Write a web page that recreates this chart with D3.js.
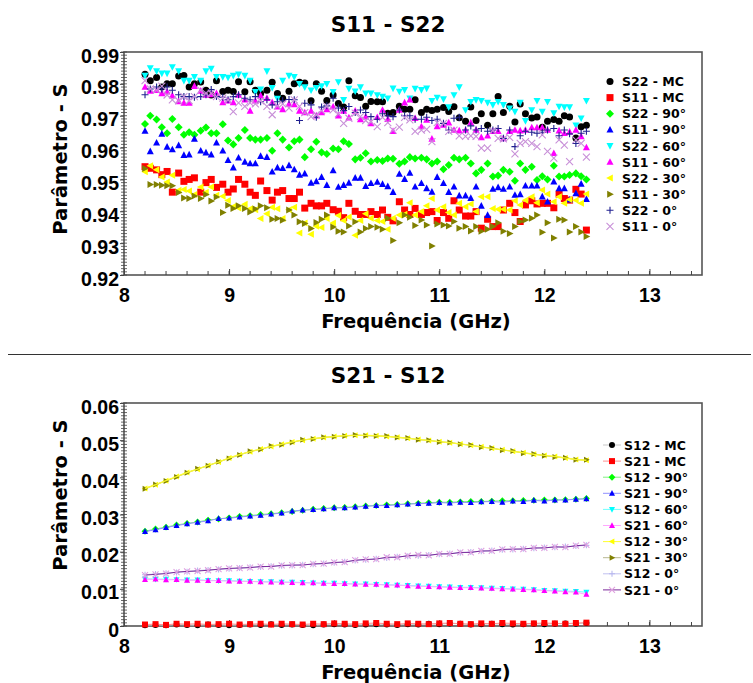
<!DOCTYPE html>
<html lang="en">
<head>
<meta charset="UTF-8">
<title>S11 - S22 / S21 - S12</title>
<style>
  body { margin: 0; background: #fff; }
  svg { display: block; font-family: "DejaVu Sans", Verdana, sans-serif; font-weight: bold; }
</style>
</head>
<body>
<svg width="753" height="683"></svg>
<script src="https://d3js.org/d3.v7.min.js"></script>
<script>
// ---------- top panel: reflection, 81 sweep points (GHz) ----------
const freqRefl = [
  8.20, 8.25, 8.31, 8.36, 8.41, 8.46, 8.52, 8.57, 8.62, 8.67,
  8.73, 8.78, 8.83, 8.88, 8.94, 8.99, 9.04, 9.09, 9.15, 9.20,
  9.25, 9.30, 9.36, 9.41, 9.46, 9.51, 9.57, 9.62, 9.67, 9.72,
  9.78, 9.83, 9.88, 9.93, 9.99, 10.04, 10.09, 10.14, 10.20, 10.25,
  10.30, 10.35, 10.41, 10.46, 10.51, 10.56, 10.62, 10.67, 10.72, 10.77,
  10.83, 10.88, 10.93, 10.98, 11.04, 11.09, 11.14, 11.19, 11.25, 11.30,
  11.35, 11.40, 11.46, 11.51, 11.56, 11.61, 11.67, 11.72, 11.77, 11.82,
  11.88, 11.93, 11.98, 12.03, 12.09, 12.14, 12.19, 12.24, 12.30, 12.35,
  12.40];

const s22MC = [
  0.983, 0.981, 0.982, 0.979, 0.980, 0.980, 0.9825, 0.9826, 0.979, 0.980,
  0.9806, 0.978, 0.9765, 0.981, 0.9776, 0.978, 0.9776, 0.9807, 0.9775, 0.9807,
  0.978, 0.977, 0.978, 0.9805, 0.977, 0.9755, 0.9777, 0.980, 0.9805, 0.9803,
  0.9747, 0.980, 0.9777, 0.9748, 0.9765, 0.9738, 0.9727, 0.981, 0.9763, 0.9757,
  0.973, 0.9745, 0.9744, 0.9744, 0.9708, 0.971, 0.973, 0.972, 0.972, 0.975,
  0.971, 0.972, 0.9716, 0.972, 0.9726, 0.9713, 0.9728, 0.9694, 0.9683, 0.9727,
  0.9685, 0.9706, 0.967, 0.9706, 0.976, 0.971, 0.973, 0.968, 0.9737, 0.9706,
  0.9693, 0.9696, 0.9664, 0.9683, 0.9688, 0.9683, 0.970, 0.9696, 0.963, 0.9665,
  0.967];
const s11MC = [
  0.954, 0.9535, 0.953, 0.9515, 0.9525, 0.946, 0.952, 0.9494, 0.950, 0.9505,
  0.946, 0.949, 0.950, 0.9475, 0.9485, 0.946, 0.947, 0.950, 0.9485, 0.946,
  0.945, 0.9495, 0.9465, 0.9435, 0.946, 0.9465, 0.944, 0.944, 0.946, 0.941,
  0.9425, 0.9417, 0.9417, 0.9425, 0.9405, 0.940, 0.938, 0.9425, 0.940, 0.939,
  0.939, 0.9399, 0.939, 0.9404, 0.9381, 0.937, 0.943, 0.9404, 0.939, 0.9409,
  0.939, 0.9396, 0.9399, 0.9371, 0.9396, 0.9378, 0.9433, 0.9404, 0.9385, 0.9385,
  0.9399, 0.9347, 0.9375, 0.9352, 0.9352, 0.9404, 0.9425, 0.9396, 0.9368, 0.942,
  0.9433, 0.9423, 0.9425, 0.9425, 0.9411, 0.9454, 0.944, 0.9435, 0.9469, 0.9454,
  0.9341];
const s22_90 = [
  0.9674, 0.970, 0.9688, 0.9664, 0.9645, 0.969, 0.9664, 0.964, 0.9648, 0.964,
  0.9653, 0.9663, 0.9645, 0.9645, 0.9673, 0.9622, 0.961, 0.963, 0.9655, 0.963,
  0.9625, 0.9625, 0.963, 0.959, 0.9645, 0.9625, 0.960, 0.962, 0.9625, 0.957,
  0.9595, 0.9618, 0.9585, 0.958, 0.9597, 0.9595, 0.962, 0.9611, 0.9563, 0.9568,
  0.9582, 0.9556, 0.9561, 0.9558, 0.9566, 0.9565, 0.9549, 0.9556, 0.957, 0.9566,
  0.9568, 0.9563, 0.955, 0.9556, 0.9532, 0.9545, 0.9568, 0.9563, 0.9568, 0.955,
  0.9519, 0.953, 0.955, 0.9509, 0.9512, 0.953, 0.9524, 0.9496, 0.955, 0.953,
  0.954, 0.9498, 0.951, 0.950, 0.9543, 0.9509, 0.9509, 0.9514, 0.9519, 0.951,
  0.950];
const s11_90 = [
  0.9652, 0.9588, 0.9615, 0.9643, 0.9602, 0.9594, 0.9607, 0.9576, 0.9578, 0.9627,
  0.959, 0.9584, 0.9578, 0.9615, 0.959, 0.956, 0.9537, 0.9568, 0.9555, 0.955,
  0.955, 0.9573, 0.957, 0.9524, 0.9537, 0.9535, 0.9544, 0.9531, 0.9514, 0.9518,
  0.9489, 0.9494, 0.9507, 0.9482, 0.9528, 0.9476, 0.9482, 0.9489, 0.9505, 0.9505,
  0.9479, 0.9488, 0.9492, 0.9485, 0.9478, 0.946, 0.9517, 0.9501, 0.952, 0.9477,
  0.9488, 0.9472, 0.9461, 0.9507, 0.9488, 0.946, 0.9477, 0.9449, 0.9449, 0.9441,
  0.9477, 0.9417, 0.9388, 0.947, 0.9475, 0.947, 0.9477, 0.9451, 0.9453, 0.948,
  0.948, 0.948, 0.9446, 0.943, 0.9493, 0.9472, 0.9472, 0.9436, 0.9456, 0.9486,
  0.9438];
const s22_60 = [
  0.9826, 0.985, 0.984, 0.9833, 0.9833, 0.9853, 0.984, 0.981, 0.981, 0.9822,
  0.981, 0.984, 0.9848, 0.9822, 0.9822, 0.982, 0.9826, 0.983, 0.9826, 0.981,
  0.9775, 0.9783, 0.984, 0.9788, 0.9754, 0.981, 0.9826, 0.9822, 0.980, 0.979,
  0.978, 0.9788, 0.9793, 0.980, 0.9775, 0.9806, 0.975, 0.9785, 0.9777, 0.979,
  0.977, 0.977, 0.9765, 0.976, 0.9755, 0.9786, 0.9776, 0.9781, 0.9755, 0.9785,
  0.9781, 0.9786, 0.9747, 0.9757, 0.9752, 0.9727, 0.9765, 0.979, 0.9718, 0.9744,
  0.975, 0.9747, 0.9741, 0.9734, 0.9744, 0.9734, 0.9723, 0.9713, 0.9741, 0.9684,
  0.9718, 0.9747, 0.9713, 0.9744, 0.9708, 0.9729, 0.9727, 0.9727, 0.967, 0.9692,
  0.9747];
const s11_60 = [
  0.979, 0.9778, 0.978, 0.977, 0.9775, 0.9763, 0.9745, 0.974, 0.974, 0.9793,
  0.9778, 0.9765, 0.9767, 0.977, 0.9742, 0.9747, 0.9742, 0.9765, 0.975, 0.9715,
  0.9747, 0.9763, 0.9755, 0.9742, 0.9728, 0.972, 0.9737, 0.9735, 0.9715, 0.971,
  0.9715, 0.970, 0.971, 0.972, 0.9728, 0.970, 0.9715, 0.9694, 0.9715, 0.9688,
  0.9697, 0.9676, 0.9695, 0.9718, 0.9689, 0.9651, 0.9718, 0.9741, 0.975, 0.9692,
  0.9666, 0.9687, 0.9627, 0.9666, 0.9671, 0.9678, 0.9655, 0.9653, 0.9655, 0.9678,
  0.9655, 0.9632, 0.9637, 0.9651, 0.9651, 0.9629, 0.9651, 0.9655, 0.9653, 0.9655,
  0.9663, 0.9663, 0.9663, 0.9655, 0.9582, 0.9653, 0.9645, 0.9649, 0.9655, 0.9635,
  0.960];
const s22_30 = [
  0.9524, 0.9543, 0.953, 0.9508, 0.9492, 0.9513, 0.9466, 0.9468, 0.9464, 0.9453,
  0.9476, 0.946, 0.9476, 0.945, 0.9447, 0.9434, 0.9415, 0.941, 0.9422, 0.9408,
  0.9405, 0.9377, 0.9392, 0.9413, 0.9408, 0.9377, 0.9405, 0.9413, 0.9332, 0.9363,
  0.9328, 0.9353, 0.9349, 0.9377, 0.9363, 0.9387, 0.9371, 0.9382, 0.9325, 0.9371,
  0.9392, 0.9378, 0.9371, 0.9368, 0.9344, 0.9378, 0.9388, 0.9391, 0.9427, 0.9388,
  0.9399, 0.9417, 0.944, 0.9404, 0.9414, 0.9396, 0.9388, 0.9425, 0.9414, 0.9423,
  0.9399, 0.9446, 0.9446, 0.9409, 0.9406, 0.9406, 0.9404, 0.9433, 0.942, 0.9435,
  0.9446, 0.9427, 0.9467, 0.9454, 0.943, 0.9446, 0.9425, 0.9437, 0.9435, 0.9425,
  0.9454];
const s11_30 = [
  0.9534, 0.9484, 0.9484, 0.9482, 0.948, 0.948, 0.9459, 0.9442, 0.944, 0.9448,
  0.944, 0.9453, 0.9432, 0.9445, 0.9396, 0.9419, 0.9409, 0.9417, 0.9409, 0.9398,
  0.9407, 0.9417, 0.9411, 0.9375, 0.9377, 0.9372, 0.9404, 0.9388, 0.9367, 0.9362,
  0.9346, 0.9365, 0.9375, 0.9388, 0.9351, 0.9337, 0.9335, 0.9354, 0.9367, 0.9335,
  0.9346, 0.9352, 0.935, 0.9344, 0.9378, 0.9308, 0.9364, 0.9388, 0.9381, 0.9355,
  0.9373, 0.9357, 0.9291, 0.936, 0.9357, 0.9354, 0.9368, 0.9347, 0.9352, 0.9338,
  0.9352, 0.9337, 0.9344, 0.9352, 0.9364, 0.9337, 0.933, 0.9352, 0.9368, 0.9373,
  0.9378, 0.9388, 0.9334, 0.9364, 0.9316, 0.9375, 0.9373, 0.9335, 0.9352, 0.9335,
  0.9321];
const s22_0 = [
  0.9766, 0.9784, 0.979, 0.9784, 0.979, 0.978, 0.9766, 0.976, 0.976, 0.9758,
  0.976, 0.9766, 0.9782, 0.976, 0.9758, 0.975, 0.976, 0.9766, 0.9755, 0.975,
  0.976, 0.9744, 0.975, 0.9734, 0.9744, 0.9747, 0.9751, 0.975, 0.9685, 0.9739,
  0.9734, 0.9695, 0.9727, 0.9731, 0.9755, 0.9724, 0.9716, 0.9729, 0.971, 0.9718,
  0.971, 0.9697, 0.9689, 0.9706, 0.970, 0.9697, 0.9718, 0.970, 0.970, 0.9689,
  0.9689, 0.9695, 0.9685, 0.9689, 0.9676, 0.9655, 0.9692, 0.9695, 0.9655, 0.9668,
  0.9655, 0.966, 0.9651, 0.9655, 0.966, 0.9629, 0.9655, 0.9603, 0.9637, 0.9651,
  0.9648, 0.9645, 0.9648, 0.9655, 0.966, 0.9637, 0.9655, 0.9643, 0.9613, 0.9645,
  0.9651];
const s11_0 = [
  0.981, 0.9784, 0.978, 0.9793, 0.9765, 0.975, 0.9747, 0.976, 0.9747, 0.976,
  0.978, 0.977, 0.977, 0.976, 0.9755, 0.975, 0.9713, 0.974, 0.9729, 0.974,
  0.9737, 0.9747, 0.9729, 0.9703, 0.9731, 0.9737, 0.9724, 0.975, 0.9729, 0.971,
  0.9697, 0.9703, 0.9716, 0.9729, 0.9718, 0.9706, 0.9676, 0.9692, 0.9708, 0.9697,
  0.9685, 0.9681, 0.9666, 0.9695, 0.9678, 0.9655, 0.9664, 0.9695, 0.9687, 0.9651,
  0.9655, 0.9657, 0.9619, 0.9678, 0.9676, 0.9651, 0.9655, 0.9637, 0.9635, 0.9637,
  0.9635, 0.9598, 0.9598, 0.9653, 0.9629, 0.9627, 0.9632, 0.958, 0.9613, 0.9619,
  0.9613, 0.9603, 0.964, 0.9588, 0.9567, 0.9624, 0.9608, 0.9556, 0.9624, 0.9613,
  0.957];

// ---------- bottom panel: transmission, 43 points ----------
const freqTrans = [
  8.2, 8.3, 8.4, 8.5, 8.6, 8.7, 8.8, 8.9, 9.0, 9.1,
  9.2, 9.3, 9.4, 9.5, 9.6, 9.7, 9.8, 9.9, 10.0, 10.1,
  10.2, 10.3, 10.4, 10.5, 10.6, 10.7, 10.8, 10.9, 11.0, 11.1,
  11.2, 11.3, 11.4, 11.5, 11.6, 11.7, 11.8, 11.9, 12.0, 12.1,
  12.2, 12.3, 12.4];

const s12MC = [
  0.0002, 0.0003, 0.0002, 0.0004, 0.0003, 0.0002, 0.0004, 0.0003, 0.0002, 0.0003,
  0.0004, 0.0003, 0.0005, 0.0003, 0.0004, 0.0003, 0.0002, 0.0004, 0.0005, 0.0004,
  0.0003, 0.0004, 0.0005, 0.0004, 0.0003, 0.0005, 0.0004, 0.0006, 0.0005, 0.0007,
  0.0006, 0.0004, 0.0005, 0.0006, 0.0005, 0.0004, 0.0005, 0.0006, 0.0005, 0.0006,
  0.0007, 0.0006, 0.0008];
const s21MC = [
  0.0004, 0.0005, 0.0003, 0.0006, 0.0005, 0.0006, 0.0004, 0.0005, 0.0006, 0.0004,
  0.0005, 0.0006, 0.0004, 0.0006, 0.0005, 0.0004, 0.0006, 0.0005, 0.0007, 0.0006,
  0.0005, 0.0007, 0.0008, 0.0006, 0.0005, 0.0007, 0.0006, 0.0005, 0.0007, 0.0008,
  0.0006, 0.0005, 0.0007, 0.0006, 0.0008, 0.0007, 0.0006, 0.0007, 0.0008, 0.0007,
  0.0006, 0.0008, 0.0009];
const s12_90 = [
  0.0255, 0.0261, 0.0266, 0.0272, 0.0276, 0.0280, 0.0285, 0.0288, 0.0291, 0.0295,
  0.0297, 0.0300, 0.0302, 0.0305, 0.0308, 0.0311, 0.0314, 0.0316, 0.0318, 0.0319,
  0.0321, 0.0323, 0.0324, 0.0326, 0.0327, 0.0329, 0.0330, 0.0332, 0.0333, 0.0333,
  0.0334, 0.0335, 0.0335, 0.0336, 0.0337, 0.0337, 0.0338, 0.0338, 0.0339, 0.0339,
  0.0340, 0.0341, 0.0343];
const s21_90 = [
  0.0254, 0.0259, 0.0265, 0.0270, 0.0275, 0.0279, 0.0283, 0.0289, 0.0290, 0.0293,
  0.0296, 0.0298, 0.0301, 0.0304, 0.0309, 0.0312, 0.0313, 0.0315, 0.0318, 0.0318,
  0.0320, 0.0322, 0.0324, 0.0324, 0.0326, 0.0328, 0.0329, 0.0330, 0.0332, 0.0331,
  0.0333, 0.0332, 0.0334, 0.0335, 0.0333, 0.0336, 0.0335, 0.0338, 0.0336, 0.0339,
  0.0339, 0.0341, 0.0342];
const s12_60 = [
  0.0127, 0.0126, 0.0126, 0.0125, 0.0124, 0.0124, 0.0123, 0.0122, 0.0122, 0.0121,
  0.0120, 0.0119, 0.0119, 0.0118, 0.0118, 0.0117, 0.0116, 0.0115, 0.0115, 0.0114,
  0.0113, 0.0113, 0.0112, 0.0111, 0.0110, 0.0109, 0.0108, 0.0107, 0.0106, 0.0105,
  0.0104, 0.0104, 0.0103, 0.0102, 0.0101, 0.0100, 0.0099, 0.0098, 0.0096, 0.0095,
  0.0094, 0.0093, 0.0091];
const s21_60 = [
  0.0125, 0.0126, 0.0124, 0.0125, 0.0123, 0.0123, 0.0122, 0.0122, 0.0121, 0.0120,
  0.0120, 0.0119, 0.0118, 0.0118, 0.0117, 0.0116, 0.0116, 0.0115, 0.0114, 0.0114,
  0.0113, 0.0112, 0.0112, 0.0110, 0.0110, 0.0108, 0.0107, 0.0106, 0.0105, 0.0104,
  0.0103, 0.0103, 0.0102, 0.0101, 0.0100, 0.0099, 0.0098, 0.0097, 0.0095, 0.0094,
  0.0092, 0.0091, 0.0085];
const s12_30 = [
  0.0370, 0.0380, 0.0391, 0.0402, 0.0413, 0.0422, 0.0432, 0.0441, 0.0452, 0.0461,
  0.0469, 0.0476, 0.0483, 0.0489, 0.0495, 0.0500, 0.0504, 0.0507, 0.0510, 0.0512,
  0.0513, 0.0513, 0.0512, 0.0510, 0.0508, 0.0505, 0.0502, 0.0499, 0.0496, 0.0493,
  0.0490, 0.0486, 0.0482, 0.0478, 0.0474, 0.0470, 0.0466, 0.0462, 0.0459, 0.0456,
  0.0452, 0.0448, 0.0446];
const s21_30 = [
  0.0369, 0.0381, 0.0390, 0.0401, 0.0412, 0.0423, 0.0431, 0.0442, 0.0451, 0.0460,
  0.0470, 0.0475, 0.0484, 0.0488, 0.0494, 0.0501, 0.0503, 0.0508, 0.0509, 0.0511,
  0.0514, 0.0512, 0.0511, 0.0511, 0.0507, 0.0506, 0.0501, 0.0500, 0.0495, 0.0494,
  0.0489, 0.0487, 0.0481, 0.0479, 0.0473, 0.0471, 0.0465, 0.0463, 0.0458, 0.0455,
  0.0453, 0.0447, 0.0447];
const s12_0 = [
  0.0138, 0.0140, 0.0142, 0.0144, 0.0146, 0.0149, 0.0151, 0.0152, 0.0154, 0.0156,
  0.0158, 0.0159, 0.0161, 0.0162, 0.0163, 0.0165, 0.0166, 0.0168, 0.0170, 0.0173,
  0.0176, 0.0178, 0.0181, 0.0183, 0.0186, 0.0188, 0.0189, 0.0191, 0.0193, 0.0195,
  0.0197, 0.0199, 0.0201, 0.0203, 0.0205, 0.0206, 0.0208, 0.0209, 0.0211, 0.0212,
  0.0214, 0.0215, 0.0217];
const s21_0 = [
  0.0137, 0.0139, 0.0141, 0.0145, 0.0147, 0.0148, 0.0150, 0.0153, 0.0155, 0.0156,
  0.0157, 0.0160, 0.0160, 0.0163, 0.0164, 0.0164, 0.0167, 0.0168, 0.0171, 0.0172,
  0.0177, 0.0179, 0.0180, 0.0185, 0.0185, 0.0189, 0.0191, 0.0190, 0.0194, 0.0194,
  0.0198, 0.0198, 0.0202, 0.0202, 0.0206, 0.0207, 0.0207, 0.0210, 0.0210, 0.0213,
  0.0212, 0.0216, 0.0218];

const xTicks = [8, 9, 10, 11, 12, 13];
const yTicksRefl = [0.92, 0.93, 0.94, 0.95, 0.96, 0.97, 0.98, 0.99];
const yTicksTrans = [0, 0.01, 0.02, 0.03, 0.04, 0.05, 0.06];

// series tables (name, values, look)
const reflSeries = [
  { name: "S22 - MC",  values: s22MC,  color: "#000000", shape: "circle" },
  { name: "S11 - MC",  values: s11MC,  color: "#ff0000", shape: "square" },
  { name: "S22 - 90°", values: s22_90, color: "#00ff00", shape: "diamond" },
  { name: "S11 - 90°", values: s11_90, color: "#0000ff", shape: "up" },
  { name: "S22 - 60°", values: s22_60, color: "#00ffff", shape: "down" },
  { name: "S11 - 60°", values: s11_60, color: "#ff00ff", shape: "up" },
  { name: "S22 - 30°", values: s22_30, color: "#ffff00", shape: "left" },
  { name: "S11 - 30°", values: s11_30, color: "#808000", shape: "right" },
  { name: "S22 - 0°",  values: s22_0,  color: "#202090", shape: "plus" },
  { name: "S11 - 0°",  values: s11_0,  color: "#c890d8", shape: "cross" }
];
const transSeries = [
  { name: "S12 - MC",  values: s12MC,  color: "#000000", line: "#c8c8c8", lw: 1, shape: "circle" },
  { name: "S21 - MC",  values: s21MC,  color: "#ff0000", line: "#ff9090", lw: 1, shape: "square" },
  { name: "S12 - 90°", values: s12_90, color: "#00ff00", line: "#80f080", lw: 1, shape: "diamond" },
  { name: "S21 - 90°", values: s21_90, color: "#0000ff", line: "#9090ff", lw: 1, shape: "up" },
  { name: "S12 - 60°", values: s12_60, color: "#00ffff", line: "#70ffff", lw: 1, shape: "down" },
  { name: "S21 - 60°", values: s21_60, color: "#ff00ff", line: "#ffa8ff", lw: 1, shape: "up" },
  { name: "S12 - 30°", values: s12_30, color: "#ffff00", line: "#ffff30", lw: 1, shape: "left" },
  { name: "S21 - 30°", values: s21_30, color: "#808000", line: "#b8b890", lw: 1, shape: "right" },
  { name: "S12 - 0°",  values: s12_0,  color: "#b8b8ee", line: "#c0c0f0", lw: 1, shape: "plus" },
  { name: "S21 - 0°",  values: s21_0,  color: "#e0a0e0", line: "#7a2a9a", lw: 1, shape: "cross" }
];

const svg = d3.select("svg");
svg.append("rect").attr("width", 753).attr("height", 683).attr("fill", "#fff");

function markerPath(shape, r) {
  switch (shape) {
    case "circle":  return d3.symbol(d3.symbolCircle, Math.PI * r * r)();
    case "square":  return `M${-r},${-r}h${2 * r}v${2 * r}h${-2 * r}Z`;
    case "diamond": return `M0,${-r * 1.15}L${r * 1.15},0L0,${r * 1.15}L${-r * 1.15},0Z`;
    case "up":      return `M0,${-r * 1.1}L${r},${r * 0.8}L${-r},${r * 0.8}Z`;
    case "down":    return `M0,${r * 1.1}L${r},${-r * 0.8}L${-r},${-r * 0.8}Z`;
    case "left":    return `M${-r * 1.1},0L${r * 0.8},${-r}L${r * 0.8},${r}Z`;
    case "right":   return `M${r * 1.1},0L${-r * 0.8},${-r}L${-r * 0.8},${r}Z`;
    case "plus":    return `M${-r},0H${r}M0,${-r}V${r}`;
    case "cross":   return `M${-r},${-r}L${r},${r}M${-r},${r}L${r},${-r}`;
  }
}
const stroked = s => s === "plus" || s === "cross";

function drawMarker(sel, s, r) {
  sel.attr("d", markerPath(s.shape, r))
    .attr("fill", stroked(s.shape) ? "none" : s.color)
    .attr("stroke", stroked(s.shape) ? s.color : "none")
    .attr("stroke-width", 1.1);
}

function panel(opt) {
  const x = d3.scaleLinear().domain([8, 13.5]).range([124, 702]);
  const y = d3.scaleLinear().domain(opt.yDomain).range([opt.bottom, opt.top]);
  const g = svg.append("g");

  // title
  g.append("text").attr("x", 388).attr("y", opt.titleY)
    .attr("text-anchor", "middle").style("font-size", "21.5px").text(opt.title);

  // frame
  g.append("rect").attr("x", 124).attr("y", opt.top)
    .attr("width", 702 - 124).attr("height", opt.bottom - opt.top)
    .attr("fill", "none").attr("stroke", "#555").attr("stroke-width", 1.6);

  // minor ticks
  const xMinor = d3.range(8.2, 13.45, 0.2);
  g.append("g").selectAll("line").data(xMinor).join("line")
    .attr("x1", d => x(d)).attr("x2", d => x(d))
    .attr("y1", opt.bottom).attr("y2", opt.bottom - 4)
    .attr("stroke", "#444").attr("stroke-width", 1);
  const yStep = (opt.yDomain[1] - opt.yDomain[0]) / 70;
  const yMinor = d3.range(0, 71).map(i => opt.yDomain[0] + i * yStep);
  g.append("g").selectAll("line").data(yMinor).join("line")
    .attr("x1", 121).attr("x2", 127)
    .attr("y1", d => y(d)).attr("y2", d => y(d))
    .attr("stroke", "#444").attr("stroke-width", 0.8);

  // axes
  const xAxis = g.append("g").attr("transform", `translate(0,${opt.bottom})`)
    .call(d3.axisBottom(x).tickValues(xTicks).tickSizeInner(-6).tickSizeOuter(0).tickFormat(d3.format("d")));
  xAxis.select(".domain").remove();
  xAxis.selectAll("line").attr("stroke", "#444");
  xAxis.selectAll("text").attr("y", 27).attr("dy", null)
    .style("font-size", "19.5px").attr("fill", "#000");

  const yAxis = g.append("g").attr("transform", "translate(124,0)")
    .call(d3.axisLeft(y).tickValues(opt.yTicks).tickSizeInner(4).tickSizeOuter(0)
      .tickFormat(d => d === 0 ? "0" : d3.format(".2f")(d)));
  yAxis.select(".domain").remove();
  yAxis.selectAll("line").attr("stroke", "#444");
  yAxis.selectAll("text").attr("x", -5).attr("dy", null).attr("y", 10)
    .style("font-size", "19.5px").attr("fill", "#000");

  // axis labels
  g.append("text").attr("x", 416).attr("y", opt.bottom + 53)
    .attr("text-anchor", "middle").style("font-size", "19.5px").text("Frequência (GHz)");
  g.append("text").attr("transform", `translate(67,${opt.yLabelY}) rotate(-90)`)
    .attr("text-anchor", "middle").style("font-size", "19.5px").text("Parâmetro - S");

  // data
  const lineGen = d3.line().x(d => x(d[0])).y(d => y(d[1]));
  opt.series.forEach(s => {
    const pts = opt.freq.map((f, i) => [f, s.values[i]]);
    if (opt.lines) {
      g.append("path").datum(pts).attr("d", lineGen)
        .attr("fill", "none").attr("stroke", s.line).attr("stroke-width", s.lw);
    }
    g.append("g").selectAll("path").data(pts).join("path")
      .attr("transform", d => `translate(${x(d[0])},${y(d[1])})`)
      .call(drawMarker, s, opt.r);
  });
  // the 30° S12 trace shows through its twin in the original; redraw its line on top
  if (opt.lines) {
    const s = opt.series[6];
    g.append("path").datum(opt.freq.map((f, i) => [f, s.values[i]])).attr("d", lineGen)
      .attr("fill", "none").attr("stroke", s.line).attr("stroke-width", 1.4).attr("opacity", 0.9);
  }

  // legend
  const lg = g.append("g");
  opt.series.forEach((s, i) => {
    const ly = opt.legendY + i * 16.1;
    if (opt.lines) {
      lg.append("line").attr("x1", opt.legendX - 9).attr("x2", opt.legendX + 9)
        .attr("y1", ly).attr("y2", ly).attr("stroke", s.line).attr("stroke-width", 1);
    }
    lg.append("path").attr("transform", `translate(${opt.legendX},${ly})`)
      .call(drawMarker, s, opt.r);
    lg.append("text").attr("x", opt.legendX + 12).attr("y", ly + 4.6)
      .style("font-size", "12.5px").text(s.name);
  });
}

panel({
  title: "S11 - S22", titleY: 32, top: 52, bottom: 275,
  yDomain: [0.92, 0.99], yTicks: yTicksRefl, yLabelY: 159,
  freq: freqRefl, series: reflSeries, lines: false, r: 3.5,
  legendX: 610, legendY: 81.5
});

svg.append("line").attr("x1", 8).attr("x2", 751).attr("y1", 354.5).attr("y2", 354.5)
  .attr("stroke", "#333").attr("stroke-width", 1);

panel({
  title: "S21 - S12", titleY: 383, top: 403, bottom: 626,
  yDomain: [0, 0.06], yTicks: yTicksTrans, yLabelY: 495,
  freq: freqTrans, series: transSeries, lines: true, r: 3,
  legendX: 612, legendY: 445
});
</script>
</body>
</html>
